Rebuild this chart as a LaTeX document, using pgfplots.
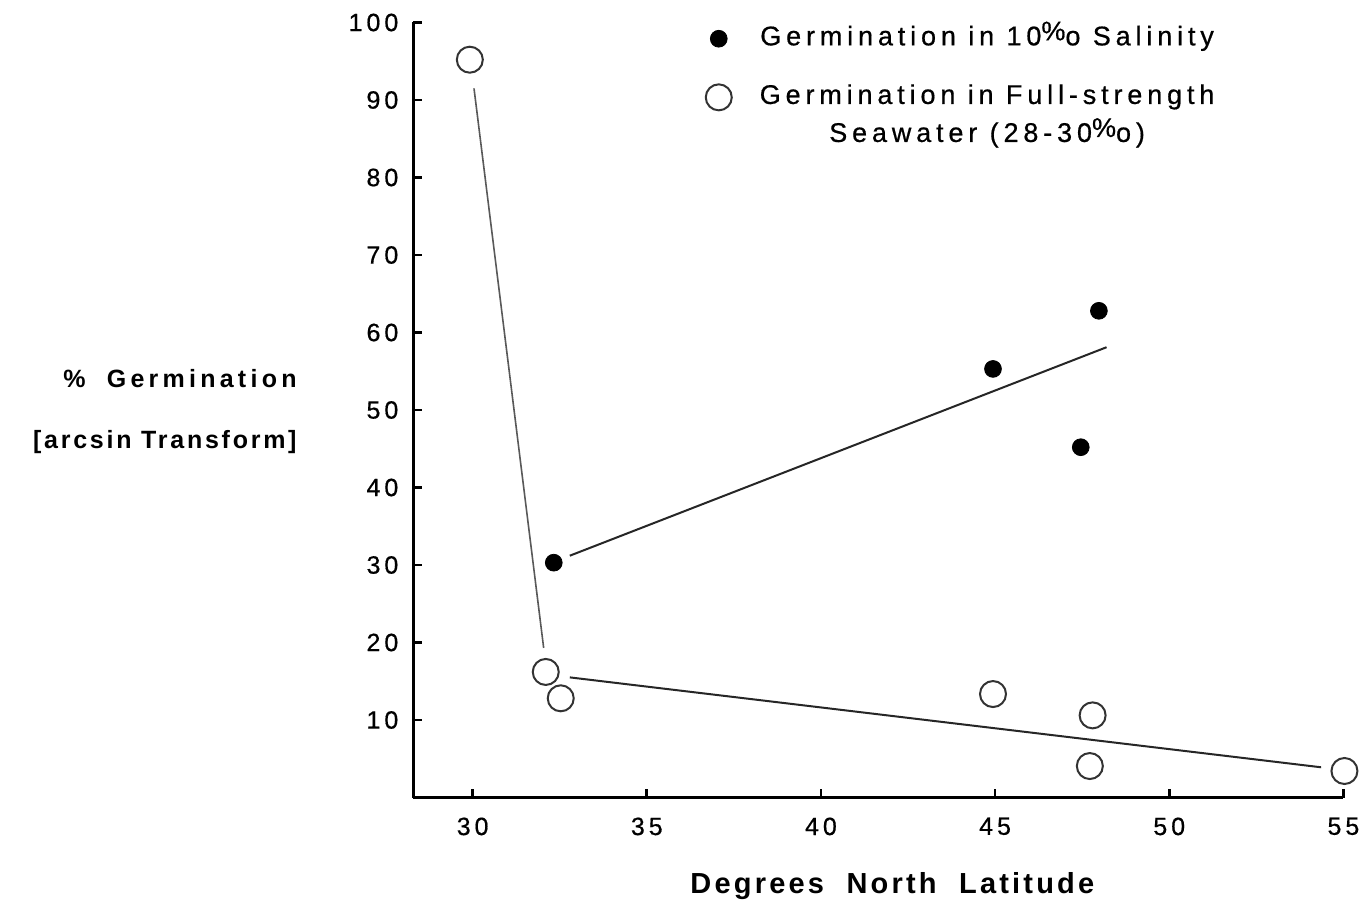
\documentclass[border=0pt]{standalone}
\usepackage{fontspec}
\setmainfont{Liberation Sans}
\newfontfamily\tickfont[LetterSpace=16,FakeBold=0.6]{Liberation Sans}
\newfontfamily\legfont[LetterSpace=18,FakeBold=0.6]{Liberation Sans}
\newfontfamily\labfont[LetterSpace=11]{Liberation Sans}
\newfontfamily\labfontwide[LetterSpace=17]{Liberation Sans}
\usepackage{pgfplots}
\pgfplotsset{compat=1.18}
\newcommand{\permil}{\raisebox{0.35ex}{\%}o}

\begin{document}
\begin{tikzpicture}
\useasboundingbox (-206.7pt,-51.75pt) rectangle (474.8pt,398.75pt);
\begin{axis}[
  at={(0,0)}, anchor=south west,
  scale only axis, width=465pt, height=387.5pt,
  xmin=28.3, xmax=55, ymin=0, ymax=100,
  axis x line=bottom, axis y line=left,
  axis line style={line width=1.4pt, -},
  xtick={30,35,...,55}, ytick={10,20,...,100},
  tick align=inside, major tick length=4.5pt,
  tick style={line width=1.4pt, black},
  /pgf/number format/assume math mode=true,
  tick label style={font=\fontsize{12.5}{14}\tickfont},
  xticklabel style={yshift=-6.5pt},
  yticklabel style={xshift=-4pt},
  clip=false,
  xlabel={Degrees\ \ North\ \ Latitude},
  xlabel style={font=\fontsize{14.5}{16}\labfont\bfseries,
    at={(axis description cs:0.515,-0.114)}, anchor=center},
  ylabel={{\labfontwide\bfseries\%\hspace{5pt} Germination}\\{}{[}arcsin Transform{]}},
  ylabel style={rotate=-90, font=\fontsize{12.5}{30.5}\labfont\bfseries, align=right,
    at={(axis description cs:-0.118,0.498)}, anchor=east},
  legend style={draw=none, fill=none, font=\fontsize{13.5}{19}\legfont,
    at={(axis description cs:0.3075,1.012)}, anchor=north west,
    cells={anchor=base}, row sep=10.5pt, column sep=12pt},
  legend image post style={yshift=0.33em},
]
\addplot[only marks, mark=*, mark size=4.2pt, black] coordinates
  {(32.33,30.3) (44.94,55.3) (47.46,45.2) (47.98,62.8)};
\addlegendentry{Germination in 10\permil\ Salinity}
\addplot[only marks, mark=o, mark size=6.5pt, black!80, line width=1pt] coordinates
  {(29.92,95.2) (32.10,16.2) (32.53,12.8) (44.94,13.35) (47.8,10.6) (47.72,4.06) (55.03,3.42)};
\addlegendentry{\begin{tabular}[t]{@{}c@{}}Germination in Full-strength\\Seawater (28-30\permil)\end{tabular}}
\addplot[forget plot, black!85, line width=1pt] coordinates {(32.79,31.2) (48.2,58.1)};
\addplot[forget plot, black!65, line width=0.8pt] coordinates {(30.04,91.5) (32.04,19.3)};
\addplot[forget plot, black!85, line width=1pt] coordinates {(32.79,15.5) (54.36,3.9)};
\end{axis}
\end{tikzpicture}
\end{document}
